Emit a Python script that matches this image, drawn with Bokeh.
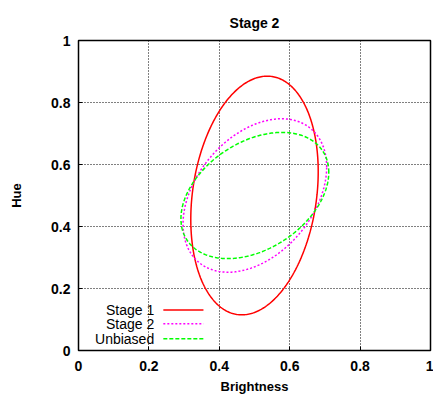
import numpy as np
from bokeh.plotting import figure
from bokeh.models import FixedTicker, Label, Arrow, Range1d
from bokeh.embed import file_html
from bokeh.resources import INLINE

# ---- data ----
series = ["Stage 1", "Stage 2", "Unbiased"]
center_x = [0.500, 0.501, 0.501]      # Brightness centre of each ellipse
center_y = [0.500, 0.500, 0.500]      # Hue centre of each ellipse
semi_x = [0.181, 0.204, 0.210]        # half extent along Brightness
semi_y = [0.385, 0.2475, 0.2035]      # half extent along Hue
phase = [1.37, 1.19, 1.195]           # phase lag between Hue and Brightness (tilt)

x_ticks = [0, 0.2, 0.4, 0.6, 0.8, 1]
x_tick_labels = ["0", "0.2", "0.4", "0.6", "0.8", "1"]
y_ticks = [0, 0.2, 0.4, 0.6, 0.8, 1]
y_tick_labels = ["0", "0.2", "0.4", "0.6", "0.8", "1"]

colors = ["#ff0000", "#ff00ff", "#00ff00"]
dashes = ["solid", "2 2", "4 2"]

FONT = "Liberation Sans"

p = figure(width=433, height=396, output_backend="svg", toolbar_location=None,
           x_range=Range1d(0, 1), y_range=Range1d(0, 1),
           min_border_left=78, min_border_right=3, min_border_top=40, min_border_bottom=43,
           title="Stage 2")
p.title.align = "center"
p.title.text_font = FONT
p.title.text_font_size = "14px"
p.title.text_font_style = "bold"
p.title.text_color = "black"
p.title.offset = 0
p.title.standoff = 19

p.outline_line_color = "black"
p.outline_line_width = 1.5
p.background_fill_color = "white"
p.border_fill_color = "white"

for ax, ticks, labels in ((p.xaxis[0], x_ticks, x_tick_labels), (p.yaxis[0], y_ticks, y_tick_labels)):
    ax.ticker = FixedTicker(ticks=ticks)
    ax.major_label_overrides = dict(zip(ticks, labels))
    ax.minor_tick_line_color = None
    ax.major_tick_in = 4
    ax.major_tick_out = 0
    ax.axis_line_color = None
    ax.major_label_text_font = FONT
    ax.major_label_text_font_style = "bold"
    ax.major_label_text_font_size = "14px"
    ax.major_label_text_color = "black"
    ax.axis_label_text_font = FONT
    ax.axis_label_text_font_style = "bold"
    ax.axis_label_text_font_size = "13px"
    ax.axis_label_text_color = "black"

p.xaxis.axis_label = "Brightness"
p.yaxis.axis_label = "Hue"
p.xaxis.major_label_standoff = 10
p.xaxis.axis_label_standoff = 5
p.yaxis.major_label_standoff = 8
p.yaxis.axis_label_standoff = 24

p.grid.grid_line_color = "black"
p.grid.grid_line_dash = "1 2"
p.grid.grid_line_width = 1

t = np.linspace(0, 2 * np.pi, 361)
for i in range(len(series)):
    xs = center_x[i] + semi_x[i] * np.cos(t)
    ys = center_y[i] + semi_y[i] * np.cos(t - phase[i])
    p.line(xs, ys, line_color=colors[i], line_width=1.5, line_dash=dashes[i])

# gnuplot-style key: text right-aligned, sample on its right
key_text_x = 0.215
key_line_x0, key_line_x1 = 0.241, 0.355
key_rows = [0.131, 0.086, 0.038]
for i in range(len(series)):
    p.add_layout(Label(x=key_text_x, y=key_rows[i], text=series[i], text_align="right",
                       text_baseline="middle", text_font=FONT, text_font_size="14px",
                       text_color="black"))
    p.add_layout(Arrow(x_start=key_line_x0, y_start=key_rows[i], x_end=key_line_x1, y_end=key_rows[i],
                       start=None, end=None, line_color=colors[i], line_width=1.5,
                       line_dash=dashes[i]))

open("out.html", "w").write(file_html(p, INLINE))
